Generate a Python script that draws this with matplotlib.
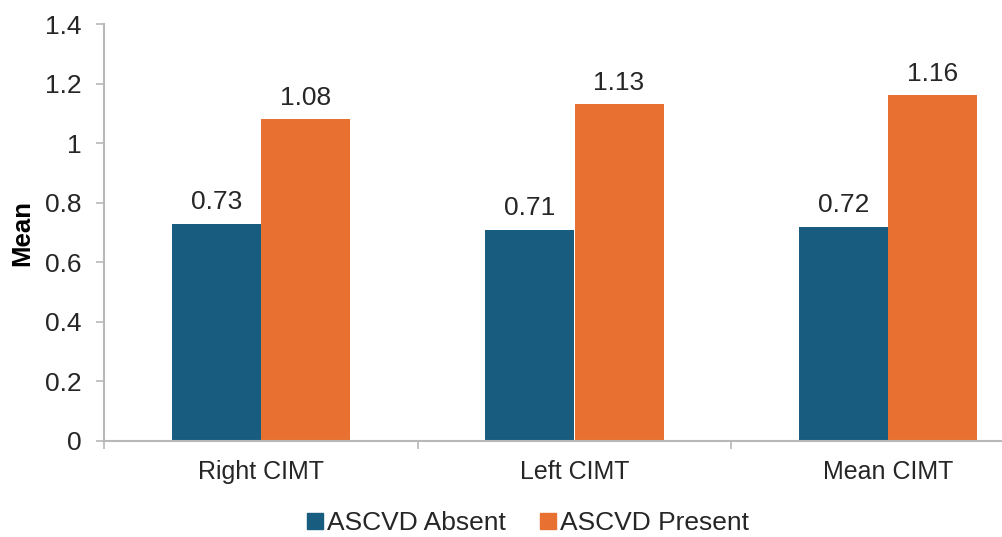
import matplotlib
matplotlib.use("Agg")
import matplotlib.pyplot as plt
import numpy as np
from matplotlib.lines import Line2D

plt.rcParams['font.family'] = ['Liberation Sans', 'DejaVu Sans']

categories = ["Right CIMT", "Left CIMT", "Mean CIMT"]
absent = [0.73, 0.71, 0.72]
present = [1.08, 1.13, 1.16]
series_names = ["ASCVD Absent", "ASCVD Present"]
yticks = [0, 0.2, 0.4, 0.6, 0.8, 1, 1.2, 1.4]
ytick_labels = ["0", "0.2", "0.4", "0.6", "0.8", "1", "1.2", "1.4"]

blue = "#185d7f"
orange = "#e87132"
axis_gray = "#b8b8b8"
text_col = "#262626"

W, H = 1003, 537
fig = plt.figure(figsize=(W / 100, H / 100), dpi=100)
ax = fig.add_axes([104 / W, 96 / H, (1045 - 104) / W, (441 - 24) / H])

x = np.arange(len(categories))
bw = 0.284
b1 = ax.bar(x - bw / 2, absent, bw, color=blue, label=series_names[0])
b2 = ax.bar(x + bw / 2, present, bw, color=orange, label=series_names[1])

for bars, vals in ((b1, absent), (b2, present)):
    for rect, v in zip(bars, vals):
        ax.annotate(f"{v:.2f}", (rect.get_x() + rect.get_width() / 2, v),
                    xytext=(0, 7), textcoords="offset points",
                    ha="center", va="bottom", fontsize=19, color=text_col)

ax.set_xlim(-0.5, len(categories) - 0.5)
ax.set_ylim(0, 1.4)
ax.set_yticks(yticks)
ax.set_yticklabels(ytick_labels)
ax.set_xticks(x)
ax.set_xticklabels(categories)
ax.set_xticks(np.arange(len(categories) + 1) - 0.5, minor=True)

for s in ("top", "right"):
    ax.spines[s].set_visible(False)
for s in ("left", "bottom"):
    ax.spines[s].set_color(axis_gray)
    ax.spines[s].set_linewidth(1.5)

ax.tick_params(axis="y", length=6, width=1.2, color=axis_gray, pad=10,
               labelsize=19, labelcolor=text_col)
ax.tick_params(axis="x", which="major", length=0, pad=14,
               labelsize=18, labelcolor=text_col)
ax.tick_params(axis="x", which="minor", length=6, width=1.2, color=axis_gray)

ax.set_ylabel("Mean", fontsize=18.5, fontweight="bold", color="#000000", labelpad=8)

handles = [Line2D([], [], marker="s", linestyle="none", markersize=11,
                  markerfacecolor=c, markeredgecolor=c) for c in (blue, orange)]
fig.legend(handles, series_names, loc="center", bbox_to_anchor=(528 / W, 14 / H),
           ncol=2, frameon=False, fontsize=19, handlelength=0.6,
           handletextpad=0.15, columnspacing=1.3, labelcolor=text_col)

fig.savefig("out.png", dpi=100)
